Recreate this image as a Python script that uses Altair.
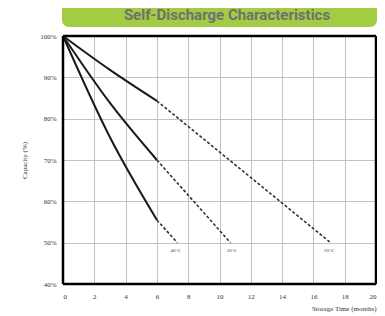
import altair as alt
import pandas as pd

# Measured (solid) portion of each curve
t40 = [0, 3.0, 6.0]
c40 = [100, 75.5, 55.5]
t30 = [0, 3.0, 6.0]
c30 = [100, 83.8, 70]
t20 = [0, 3.0, 6.0]
c20 = [100, 91.8, 84.3]

# Extrapolated (dashed) portion
d40_t = [6.0, 7.3]
d40_c = [55.5, 50]
d30_t = [6.0, 10.7]
d30_c = [70, 50]
d20_t = [6.0, 17.1]
d20_c = [84.3, 50]

labels = ["40°C", "30°C", "20°C"]
label_t = [7.2, 10.8, 17.0]
label_c = [48.2, 48.2, 48.2]

x_ticks = list(range(0, 21, 2))
y_ticks = list(range(40, 101, 10))
x_edges = [0, 20]
y_edges = [40, 100]

solid = pd.DataFrame(
    [{"t": t, "c": c, "s": "40"} for t, c in zip(t40, c40)]
    + [{"t": t, "c": c, "s": "30"} for t, c in zip(t30, c30)]
    + [{"t": t, "c": c, "s": "20"} for t, c in zip(t20, c20)]
)
dashed = pd.DataFrame(
    [{"t": t, "c": c, "s": "40"} for t, c in zip(d40_t, d40_c)]
    + [{"t": t, "c": c, "s": "30"} for t, c in zip(d30_t, d30_c)]
    + [{"t": t, "c": c, "s": "20"} for t, c in zip(d20_t, d20_c)]
)
lab = pd.DataFrame({"t": label_t, "c": label_c, "l": labels})

serif = "Liberation Serif"

xs = alt.Scale(domain=[0, 20], nice=False)
ys = alt.Scale(domain=[40, 100], nice=False)

xax = alt.Axis(values=x_ticks, title="Storage Time (months)", grid=True,
               labelOverlap=False, titleAnchor="end", titleAlign="right",
               titlePadding=5, labelPadding=8)
yax = alt.Axis(values=y_ticks, title="Capacity (%)", grid=True,
               labelOverlap=False, labelExpr="datum.value + '%'",
               labelPadding=7, titlePadding=12)

X = alt.X("t:Q", scale=xs, axis=xax)
Y = alt.Y("c:Q", scale=ys, axis=yax)

base_solid = alt.Chart(solid).mark_line(
    color="#1a1a1a", strokeWidth=2, interpolate="monotone"
).encode(x=X, y=Y, detail="s:N")

dash = alt.Chart(dashed).mark_line(
    color="#333", strokeWidth=1.6, strokeDash=[3, 2]
).encode(x=X, y=Y, detail="s:N")

txt = alt.Chart(lab).mark_text(
    font=serif, fontSize=5, color="#444"
).encode(x=X, y=Y, text="l:N")

frame_v = alt.Chart(pd.DataFrame({"t": x_edges})).mark_rule(
    color="black", strokeWidth=2.5
).encode(x=X)
frame_h = alt.Chart(pd.DataFrame({"c": y_edges})).mark_rule(
    color="black", strokeWidth=2.5
).encode(y=Y)

one = pd.DataFrame({"k": [0]})
W, H = 313, 248

banner = alt.Chart(one).mark_rect(
    color="#a2cc44", cornerRadius=7
).encode(x=alt.value(-1), x2=alt.value(314), y=alt.value(-34), y2=alt.value(-9))

banner_text = alt.Chart(one).mark_text(
    text="Self-Discharge Characteristics", font="Roboto", fontSize=15,
    fontWeight="bold", color="#707070", baseline="middle"
).encode(x=alt.value(164), y=alt.value(-21))

chart = alt.layer(
    base_solid, dash, txt, banner, banner_text, frame_v, frame_h
).properties(
    width=W, height=H, background="white",
    autosize=alt.AutoSizeParams(type="none"),
    padding={"left": 55, "top": 28, "right": 1, "bottom": 32},
).configure_axis(
    grid=True, gridColor="#c2c2c2", gridWidth=1, gridOpacity=1,
    domain=False, ticks=False,
    labelFont=serif, labelFontSize=7, labelColor="#333",
    titleFont=serif, titleFontSize=7, titleFontWeight="normal", titleColor="#333",
)

chart.save("out.html", embed_options={"renderer": "svg", "actions": False})
